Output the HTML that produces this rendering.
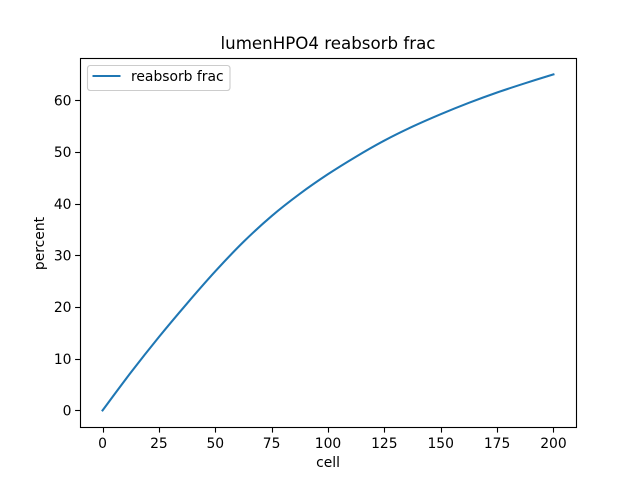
<!DOCTYPE html>
<html>
<head>
<meta charset="utf-8">
<style>
html,body{margin:0;padding:0;background:#fff;width:640px;height:480px;overflow:hidden}
svg{display:block}
text{font-family:"DejaVu Sans",sans-serif;fill:#000}
</style>
</head>
<body>
<svg id="chart" width="640" height="480" viewBox="0 0 640 480" xmlns="http://www.w3.org/2000/svg">
<rect x="0" y="0" width="640" height="480" fill="#fff"/>
<text x="328" y="49" text-anchor="middle" style="font-size:16.67px">lumenHPO4 reabsorb frac</text>
<g id="ticks"></g>
<path id="line" fill="none" stroke="#1f77b4" stroke-width="2.08" stroke-linecap="square" stroke-linejoin="round"/>
<rect x="80.5" y="58.5" width="496" height="369" fill="none" stroke="#000" stroke-width="1.11"/>
<text x="328" y="467" font-size="13.89" text-anchor="middle">cell</text>
<text x="0" y="0" font-size="13.89" text-anchor="middle" transform="translate(44,243.5) rotate(-90)">percent</text>
<g>
<rect x="87.5" y="65.5" width="142.5" height="25" rx="2.8" ry="2.8" fill="#fff" fill-opacity="0.8" stroke="#ccc" stroke-width="1.11"/>
<line x1="92.5" y1="76" x2="120.5" y2="76" stroke="#1f77b4" stroke-width="2.08"/>
<text x="131" y="81" font-size="13.89">reabsorb frac</text>
</g>
</svg>
<script>
const cells = [0, 12.5, 25, 37.5, 50, 62.5, 75, 87.5, 100, 112.5, 125, 137.5, 150, 162.5, 175, 187.5, 200];
const reabsorbFrac = [0, 7.3, 14.2, 20.7, 26.9, 32.6, 37.6, 41.9, 45.7, 49.1, 52.2, 54.9, 57.3, 59.5, 61.5, 63.3, 65];
const xTickLabels = [0, 25, 50, 75, 100, 125, 150, 175, 200];
const yTickLabels = [0, 10, 20, 30, 40, 50, 60];

const plotLeft = 80, plotRight = 576, plotTop = 57.6, plotBottom = 427.2;
const xMin = Math.min(...cells), xMax = Math.max(...cells);
const yMin = Math.min(...reabsorbFrac), yMax = Math.max(...reabsorbFrac);
const xPad = (xMax - xMin) * 0.05, yPad = (yMax - yMin) * 0.05;
function xScale(v) { return plotLeft + (v - (xMin - xPad)) / ((xMax + xPad) - (xMin - xPad)) * (plotRight - plotLeft); }
function yScale(v) { return plotBottom - (v - (yMin - yPad)) / ((yMax + yPad) - (yMin - yPad)) * (plotBottom - plotTop); }

const NS = 'http://www.w3.org/2000/svg';
const tickGroup = document.getElementById('ticks');

xTickLabels.forEach(function (t) {
  const x = Math.round(xScale(t)) + 0.5;
  const mark = document.createElementNS(NS, 'line');
  
  
  mark.setAttribute('x1', x); mark.setAttribute('x2', x);
  mark.setAttribute('y1', plotBottom); mark.setAttribute('y2', plotBottom + 5.4);
  mark.setAttribute('stroke', '#000'); mark.setAttribute('stroke-width', '1.11');
  tickGroup.appendChild(mark);
  const label = document.createElementNS(NS, 'text');
  
  
  label.setAttribute('x', xScale(t)); label.setAttribute('y', plotBottom + 20.8);
  label.setAttribute('font-size', '13.89'); label.setAttribute('text-anchor', 'middle');
  label.textContent = t;
  tickGroup.appendChild(label);
});

yTickLabels.forEach(function (t) {
  const y = Math.round(yScale(t)) + 0.5;
  const mark = document.createElementNS(NS, 'line');
  
  
  mark.setAttribute('x1', plotLeft - 4.9); mark.setAttribute('x2', plotLeft);
  mark.setAttribute('y1', y); mark.setAttribute('y2', y);
  mark.setAttribute('stroke', '#000'); mark.setAttribute('stroke-width', '1.11');
  tickGroup.appendChild(mark);
  const label = document.createElementNS(NS, 'text');
  
  
  label.setAttribute('x', plotLeft - 8.5); label.setAttribute('y', yScale(t) + 5.2);
  label.setAttribute('font-size', '13.89'); label.setAttribute('text-anchor', 'end');
  label.textContent = t;
  tickGroup.appendChild(label);
});

const pts = cells.map(function (c, i) { return [xScale(c), yScale(reabsorbFrac[i])]; });
let d = 'M' + pts[0][0] + ' ' + pts[0][1];
for (let i = 0; i < pts.length - 1; i++) {
  const p0 = pts[Math.max(i - 1, 0)], p1 = pts[i], p2 = pts[i + 1], p3 = pts[Math.min(i + 2, pts.length - 1)];
  d += ' C' + (p1[0] + (p2[0] - p0[0]) / 6) + ' ' + (p1[1] + (p2[1] - p0[1]) / 6) + ' ' +
       (p2[0] - (p3[0] - p1[0]) / 6) + ' ' + (p2[1] - (p3[1] - p1[1]) / 6) + ' ' + p2[0] + ' ' + p2[1];
}
document.getElementById('line').setAttribute('d', d);
</script>
</body>
</html>
